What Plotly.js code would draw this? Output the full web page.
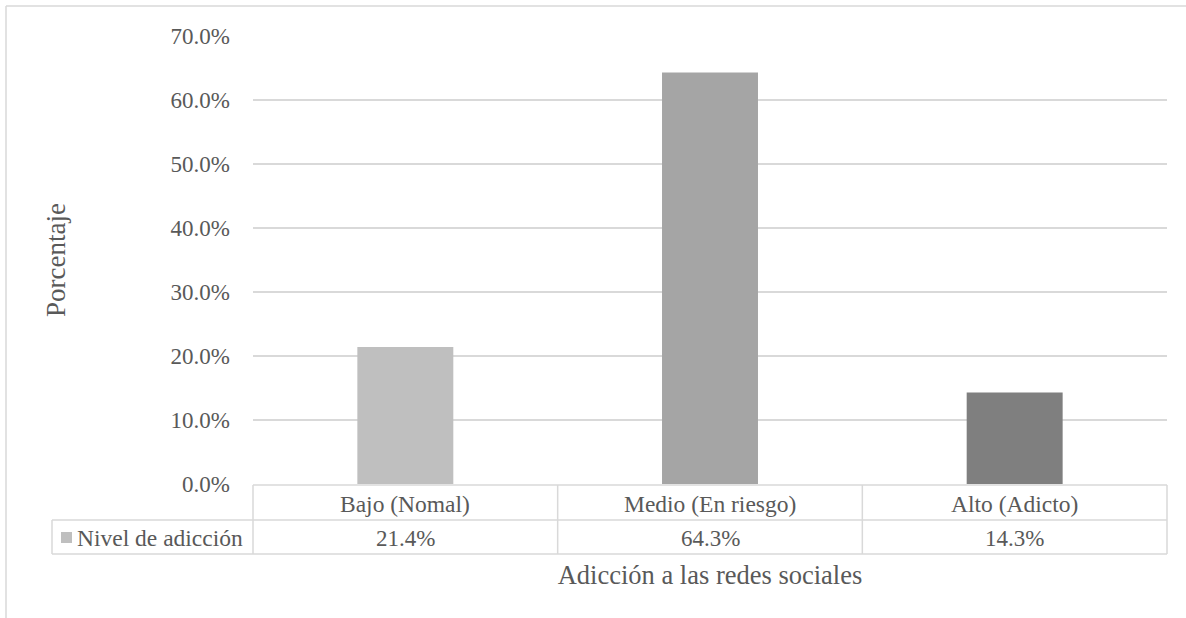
<!DOCTYPE html>
<html>
<head>
<meta charset="utf-8">
<script src="https://cdn.plot.ly/plotly-3.0.1.min.js"></script>
<style>
html,body{margin:0;padding:0;background:#fff;}
#chart{width:1186px;height:618px;}
</style>
</head>
<body>
<div id="chart"></div>
<script>
// ---- data ----
var categories = ["Bajo (Nomal)", "Medio (En riesgo)", "Alto (Adicto)"];
var values = [21.4, 64.3, 14.3];
var valueLabels = ["21.4%", "64.3%", "14.3%"];
var seriesName = "Nivel de adicción";
var barColors = ["#BFBFBF", "#A5A5A5", "#7F7F7F"];
var xTitle = "Adicción a las redes sociales";
var yTitle = "Porcentaje";

// ---- layout geometry (pixels) ----
var W = 1186, H = 618;
var L = 253, R = 19, T = 36, B = 134;
var PW = W - L - R, PH = H - T - B;
function px(x){ return (x - L) / PW; }
function py(y){ return (H - B - y) / PH; }

var FONT = "\"Liberation Serif\", \"Times New Roman\", serif";
var TXT = "#595959";
var LINE = "#D9D9D9";

var xIdx = categories.map(function(c, i){ return i; });

var trace = {
  type: "bar",
  x: xIdx,
  y: values,
  width: 0.315,
  marker: {color: barColors, line: {width: 0}},
  name: seriesName,
  hoverinfo: "skip",
  showlegend: false
};

var rowTop = 485, rowMid = 520, rowBot = 554, tableLeft = 52;
var shapes = [];
function hline(x0, x1, y, xref){
  shapes.push({type: "line", xref: xref || "paper", yref: "paper", x0: x0, x1: x1, y0: py(y), y1: py(y), line: {color: LINE, width: 1.5}});
}
function vline(x, y0, y1, xref){
  shapes.push({type: "line", xref: xref || "paper", yref: "paper", x0: x, x1: x, y0: py(y0), y1: py(y1), line: {color: LINE, width: 1.5}});
}
// outer chart frame
hline(px(6), px(W + 5), 6);
vline(px(6), 6, H + 5);
// data table
hline(0, 1, rowTop);
hline(px(tableLeft), 1, rowMid);
hline(px(tableLeft), 1, rowBot);
vline(px(tableLeft), rowMid, rowBot);
vline(0, rowTop, rowBot);
vline(1, rowTop, rowBot);
for (var i = 0; i < categories.length - 1; i++) {
  vline(i + 0.5, rowTop, rowBot, "x");
}
// legend key in the table
shapes.push({type: "rect", xref: "paper", yref: "paper",
  x0: px(61), x1: px(72), y0: py(543), y1: py(532),
  fillcolor: barColors[0], line: {width: 0}});

var annotations = [];
categories.forEach(function(c, i){
  annotations.push({x: i, xref: "x", y: py((rowTop + rowMid) / 2 + 1), yref: "paper",
    text: c, showarrow: false, xanchor: "center", yanchor: "middle",
    font: {family: FONT, size: 23.5, color: TXT}});
  annotations.push({x: i, xref: "x", y: py((rowMid + rowBot) / 2 + 1), yref: "paper",
    text: valueLabels[i], showarrow: false, xanchor: "center", yanchor: "middle",
    font: {family: FONT, size: 23, color: TXT}});
});
annotations.push({x: px(75), xref: "paper", y: py((rowMid + rowBot) / 2 + 1), yref: "paper",
  text: seriesName, showarrow: false, xanchor: "left", yanchor: "middle",
  font: {family: FONT, size: 23.5, color: TXT}});

var layout = {
  width: W, height: H,
  margin: {l: L, r: R, t: T, b: B, pad: 0},
  paper_bgcolor: "#ffffff",
  plot_bgcolor: "#ffffff",
  showlegend: false,
  bargap: 0.685,
  font: {family: FONT, color: TXT},
  xaxis: {
    range: [-0.5, categories.length - 0.5],
    showticklabels: false, showgrid: false, zeroline: false, showline: false,
    ticks: "", fixedrange: true,
    title: {text: xTitle, font: {family: FONT, size: 26.5, color: TXT}, standoff: 81},
    automargin: false
  },
  yaxis: {
    range: [0, 70], dtick: 10, tick0: 0,
    tickformat: ".1f", ticksuffix: "%",
    tickfont: {family: FONT, size: 23, color: TXT},
    showgrid: true, gridcolor: LINE, gridwidth: 1.5,
    zeroline: false, showline: false, ticks: "",
    ticklabelstandoff: 22,
    title: {text: yTitle, font: {family: FONT, size: 27, color: TXT}, standoff: 97},
    automargin: false, fixedrange: true
  },
  shapes: shapes,
  annotations: annotations
};

Plotly.newPlot("chart", [trace], layout, {displayModeBar: false, staticPlot: true});
</script>
</body>
</html>
